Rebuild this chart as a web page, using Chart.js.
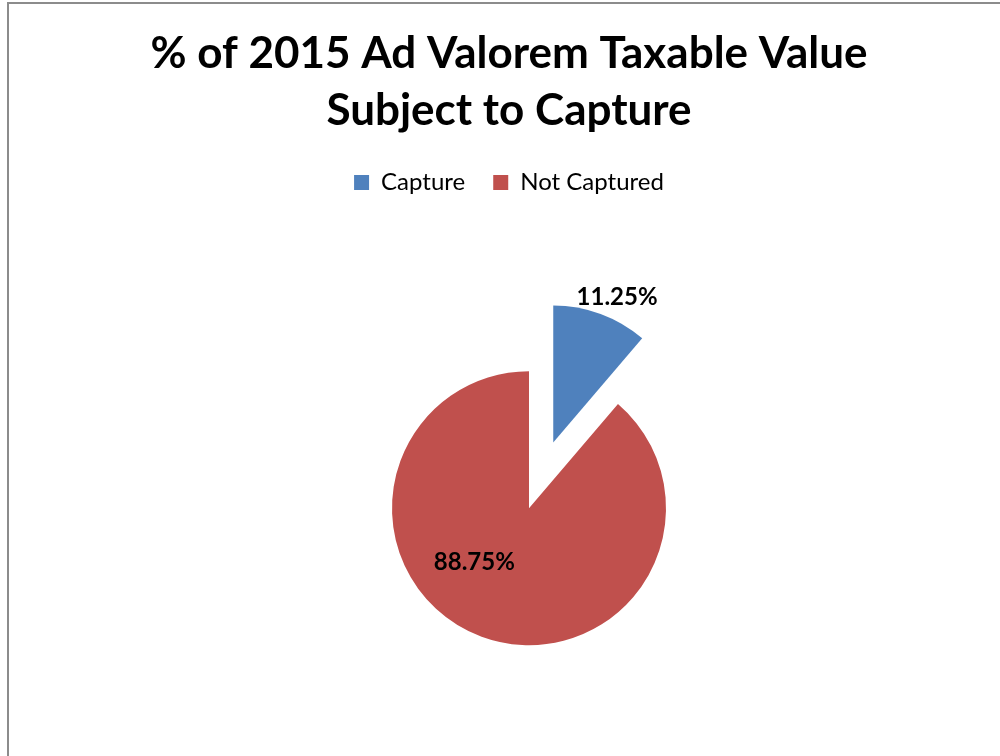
<!DOCTYPE html>
<html>
<head>
<meta charset="utf-8">
<script src="https://cdn.jsdelivr.net/npm/chart.js@4"></script>
<style>
	html, body { margin: 0; padding: 0; background: #fff; overflow: hidden; width: 1000px; height: 756px; }
	#frame { position: absolute; left: 7px; top: 2px; width: 1020px; height: 800px; border: 2px solid #8c8c8c; box-sizing: border-box; }
	#wrap { position: absolute; left: 9px; top: 0; width: 1000px; height: 812px; }
</style>
</head>
<body>
<div id="frame"></div>
<div id="wrap"><canvas id="pieCanvas"></canvas></div>
<script>
var titleLines = ["% of 2015 Ad Valorem Taxable Value", "Subject to Capture"];
var categories = ["Capture", "Not Captured"];	// 범례
var shares = [11.25, 88.75];	// 퍼센트 값

var fontName = "Lato, 'Open Sans', sans-serif";

// 차트 영역을 오른쪽으로 조금 밀어줌 (원본에서 파이가 제목보다 오른쪽)
var shiftPlugin = {
	id: 'pieShift',
	afterLayout: function(chart) {
		chart.chartArea.left += 40;
	}
};

// 첫 조각을 바깥으로 떼어냄 (offset 옵션은 반지름까지 키워서 직접 이동)
var explodePlugin = {
	id: 'explode',
	afterDatasetsUpdate: function(chart) {
		var arc = chart.getDatasetMeta(0).data[0];
		var mid = (arc.startAngle + arc.endAngle) / 2;
		arc.x += Math.cos(mid) * 70;
		arc.y += Math.sin(mid) * 70;
	}
};

// 퍼센트 라벨
var labelPlugin = {
	id: 'pctLabels',
	afterDatasetsDraw: function(chart) {
		var ctx = chart.ctx;
		var meta = chart.getDatasetMeta(0);
		var place = [[1.16, 0.06], [0.56, 0.44]];	// 반지름 배율, 각도 보정
		ctx.save();
		ctx.font = "bold 24px " + fontName;
		ctx.fillStyle = "#000";
		ctx.textAlign = "center";
		ctx.textBaseline = "middle";
		meta.data.forEach(function(arc, i) {
			var p = arc.getProps(['x', 'y', 'startAngle', 'endAngle', 'outerRadius']);
			var mid = (p.startAngle + p.endAngle) / 2 + place[i][1];
			var r = p.outerRadius * place[i][0];
			ctx.fillText(shares[i].toFixed(2) + "%", p.x + Math.cos(mid) * r, p.y + Math.sin(mid) * r);
		});
		ctx.restore();
	}
};

var ctx = document.getElementById("pieCanvas").getContext("2d");

new Chart(ctx, {
	type: 'pie',
	data: {
		labels: categories,
		datasets: [{
			data: shares,
			backgroundColor: ["#4F81BD", "#C0504D"],
			borderWidth: 0,
			radius: 137
		}]
	},
	options: {
		responsive: true,
		maintainAspectRatio: false,
		animation: false,
		events: [],
		plugins: {
			title: {
				display: true,
				text: titleLines,
				color: "#000",
				font: { family: fontName, size: 44, weight: 'bold', lineHeight: 1.3 },
				padding: { top: 25, bottom: 3 }
			},
			legend: {
				display: true,
				position: 'top',
				labels: {
					color: "#000",
					boxWidth: 15,
					boxHeight: 15,
					padding: 28,
					font: { family: fontName, size: 24 }
				}
			},
			tooltip: { enabled: false }
		}
	},
	plugins: [shiftPlugin, explodePlugin, labelPlugin]
});
</script>
</body>
</html>
